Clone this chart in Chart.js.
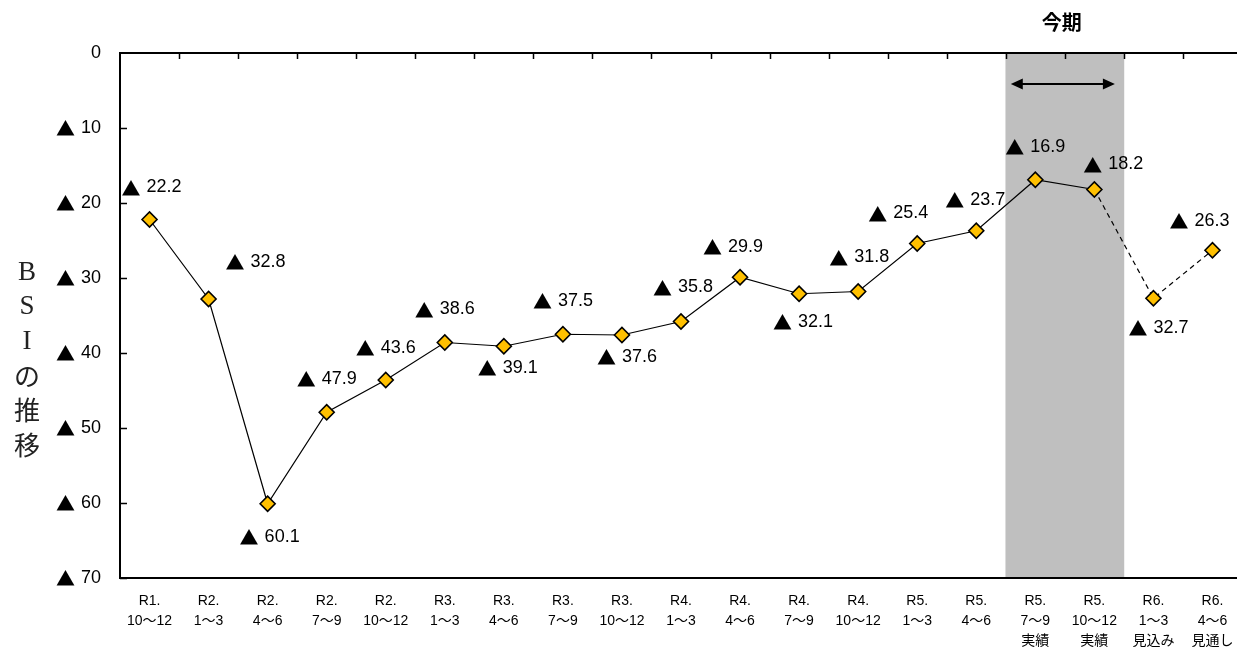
<!DOCTYPE html>
<html lang="ja">
<head>
<meta charset="utf-8">
<title>BSIの推移</title>
<script src="https://cdn.jsdelivr.net/npm/chart.js@4.4.1/dist/chart.umd.min.js"></script>
<style>
  html, body { margin: 0; padding: 0; background: #ffffff; overflow: hidden; }
  #wrap { width: 1237px; height: 649px; position: relative; overflow: hidden; }
</style>
</head>
<body>
<div id="wrap"><canvas id="bsiChart" width="1242" height="649"></canvas></div>
<script>
// ---- data ----
const periods = ['R1.', 'R2.', 'R2.', 'R2.', 'R2.', 'R3.', 'R3.', 'R3.', 'R3.', 'R4.', 'R4.', 'R4.', 'R4.', 'R5.', 'R5.', 'R5.', 'R5.', 'R6.', 'R6.'];
const months  = ['10～12', '1～3', '4～6', '7～9', '10～12', '1～3', '4～6', '7～9', '10～12', '1～3', '4～6', '7～9', '10～12', '1～3', '4～6', '7～9', '10～12', '1～3', '4～6'];
const notes   = ['', '', '', '', '', '', '', '', '', '', '', '', '', '', '', '実績', '実績', '見込み', '見通し'];
const bsi     = [-22.2, -32.8, -60.1, -47.9, -43.6, -38.6, -39.1, -37.5, -37.6, -35.8, -29.9, -32.1, -31.8, -25.4, -23.7, -16.9, -18.2, -32.7, -26.3];
const yTicks  = [0, -10, -20, -30, -40, -50, -60, -70];
const axisTitle = 'BSIの推移';
const bandTitle = '今期';

// ---- derived from the data ----
const categories = periods.map((p, i) => notes[i] ? [p, months[i], notes[i]] : [p, months[i]]);
const isCurrent  = notes.map(n => n === '実績');
const isForecast = notes.map(n => n === '見込み' || n === '見通し');
const yMin = Math.min(...yTicks), yMax = Math.max(...yTicks);
const bandData = isCurrent.map(c => c ? yMin : null);

// where each value label sits relative to its marker (dx, dy in px)
const labelOffsets = [
  [2, -32], [47, -37], [2, 33], [0, -33], [0, -32], [0, -33], [4, 22], [0, -33], [5, 22], [2, -34],
  [-7, -30], [4, 28], [1, -34], [-19, -30], [-1, -31], [0, -33], [19, -25], [5, 30], [-13, -29]
];

const SANS = "'Liberation Sans', Arial, 'Noto Sans CJK JP', sans-serif";
const MARK_FONT = "19px 'Noto Sans CJK JP', sans-serif";
const NUM_FONT = "18px 'Liberation Sans', Arial, sans-serif";
const MARK = '▲';
const MARK_GAP = 6;

// draws "▲ n" (or a plain number) so that its anchor point is at (x, y)
function drawSigned(ctx, value, digits, x, y, align) {
  const num = digits == null ? String(Math.abs(value)) : Math.abs(value).toFixed(digits);
  ctx.font = NUM_FONT;
  const nw = ctx.measureText(num).width;
  let mw = 0;
  if (value < 0) { ctx.font = MARK_FONT; mw = ctx.measureText(MARK).width + MARK_GAP; }
  const total = mw + nw;
  const left = align === 'right' ? x - total : x - total / 2;
  ctx.textAlign = 'left';
  ctx.textBaseline = 'middle';
  if (value < 0) { ctx.font = MARK_FONT; ctx.fillText(MARK, left, y + 1); }
  ctx.font = NUM_FONT;
  ctx.fillText(num, left + mw, y);
}

// frame lines, inward tick marks and the y tick labels
const plotFrame = {
  id: 'plotFrame',
  afterDatasetsDraw(chart) {
    const { ctx, chartArea: a, scales: { x, y } } = chart;
    ctx.save();
    ctx.strokeStyle = '#000';
    ctx.lineWidth = 2;
    ctx.beginPath();
    ctx.moveTo(a.left, a.top); ctx.lineTo(a.right + 2, a.top);
    ctx.moveTo(a.left, a.bottom); ctx.lineTo(a.right + 2, a.bottom);
    ctx.moveTo(a.left, a.top - 1); ctx.lineTo(a.left, a.bottom + 1);
    ctx.stroke();

    ctx.lineWidth = 1.5;
    ctx.beginPath();
    for (let i = 1; i < categories.length; i++) {
      const px = Math.round((x.getPixelForValue(i - 1) + x.getPixelForValue(i)) / 2) + 0.5;
      ctx.moveTo(px, a.top); ctx.lineTo(px, a.top + 6);
    }
    yTicks.forEach(v => {
      if (v === yMax) return;
      const py = Math.round(y.getPixelForValue(v)) + 0.5;
      ctx.moveTo(a.left, py); ctx.lineTo(a.left + 7, py);
    });
    ctx.stroke();

    ctx.fillStyle = '#000';
    y.ticks.forEach(t => drawSigned(ctx, t.value, null, a.left - 19, y.getPixelForValue(t.value), 'right'));
    ctx.restore();
  }
};

// value labels beside each marker
const valueLabels = {
  id: 'valueLabels',
  afterDatasetsDraw(chart) {
    const { ctx } = chart;
    const meta = chart.getDatasetMeta(1);
    ctx.save();
    ctx.fillStyle = '#000';
    meta.data.forEach((pt, i) => {
      const [dx, dy] = labelOffsets[i];
      drawSigned(ctx, bsi[i], 1, pt.x + dx, pt.y + dy, 'center');
    });
    ctx.restore();
  }
};

// current-period heading and arrow, plus the vertical axis title
const annotations = {
  id: 'annotations',
  afterDraw(chart) {
    const { ctx, chartArea: a, scales: { x } } = chart;
    const idx = isCurrent.map((c, i) => c ? i : -1).filter(i => i >= 0);
    const cw = x.getPixelForValue(1) - x.getPixelForValue(0);
    const left = x.getPixelForValue(idx[0]) - cw / 2;
    const right = x.getPixelForValue(idx[idx.length - 1]) + cw / 2;
    const cx = (left + right) / 2 - 3;

    ctx.save();
    ctx.fillStyle = '#000';
    ctx.font = "bold 20px 'Noto Sans CJK JP', sans-serif";
    ctx.textAlign = 'center';
    ctx.textBaseline = 'middle';
    ctx.fillText(bandTitle, cx, 22);

    // double-headed arrow
    const ay = a.top + 31, x0 = left + 5, x1 = right - 9, hl = 12, hh = 5.5;
    ctx.strokeStyle = '#000';
    ctx.lineWidth = 2;
    ctx.beginPath();
    ctx.moveTo(x0 + 6, ay); ctx.lineTo(x1 - 6, ay);
    ctx.stroke();
    ctx.beginPath();
    ctx.moveTo(x0, ay); ctx.lineTo(x0 + hl, ay - hh); ctx.lineTo(x0 + hl, ay + hh); ctx.closePath();
    ctx.moveTo(x1, ay); ctx.lineTo(x1 - hl, ay - hh); ctx.lineTo(x1 - hl, ay + hh); ctx.closePath();
    ctx.fill();

    // stacked axis title
    ctx.fillStyle = '#222';
    Array.from(axisTitle).forEach((ch, i) => {
      const latin = /[A-Za-z]/.test(ch);
      ctx.font = latin ? "27px 'Liberation Serif', 'DejaVu Serif', serif"
                       : "26px 'Noto Sans CJK JP', sans-serif";
      ctx.fillText(ch, 27, 273 + i * 34.4);
    });
    ctx.restore();
  }
};

new Chart(document.getElementById('bsiChart'), {
  data: {
    labels: categories,
    datasets: [
      {
        type: 'bar',
        data: bandData,
        backgroundColor: '#BFBFBF',
        borderWidth: 0,
        barPercentage: 1,
        categoryPercentage: 1,
        order: 2
      },
      {
        type: 'line',
        data: bsi,
        borderColor: '#000',
        borderWidth: 1.2,
        tension: 0,
        fill: false,
        clip: false,
        pointStyle: 'rectRot',
        pointRadius: 7.5,
        pointHoverRadius: 7.5,
        pointBackgroundColor: '#FFC000',
        pointBorderColor: '#000',
        pointBorderWidth: 1.6,
        segment: {
          borderDash: ctx => isForecast[ctx.p1DataIndex] ? [5, 4] : undefined
        },
        order: 1
      }
    ]
  },
  options: {
    responsive: false,
    animation: false,
    events: [],
    layout: { autoPadding: false, padding: { top: 53, right: 0, left: 0, bottom: 0 } },
    plugins: {
      legend: { display: false },
      tooltip: { enabled: false },
      title: { display: false }
    },
    scales: {
      x: {
        type: 'category',
        offset: true,
        grid: { display: false, drawTicks: false },
        border: { display: false },
        ticks: {
          color: '#000',
          font: { family: SANS, size: 14, lineHeight: 1.43 },
          padding: 13,
          maxRotation: 0,
          autoSkip: false
        },
        afterFit: s => { s.height = 71; s.paddingLeft = 0; s.paddingRight = 0; }
      },
      y: {
        min: yMin,
        max: yMax,
        grid: { display: false, drawTicks: false },
        border: { display: false },
        afterBuildTicks: s => { s.ticks = yTicks.map(v => ({ value: v })); },
        ticks: { display: false },
        afterFit: s => { s.width = 120; }
      }
    }
  },
  plugins: [plotFrame, valueLabels, annotations]
});
</script>
</body>
</html>
